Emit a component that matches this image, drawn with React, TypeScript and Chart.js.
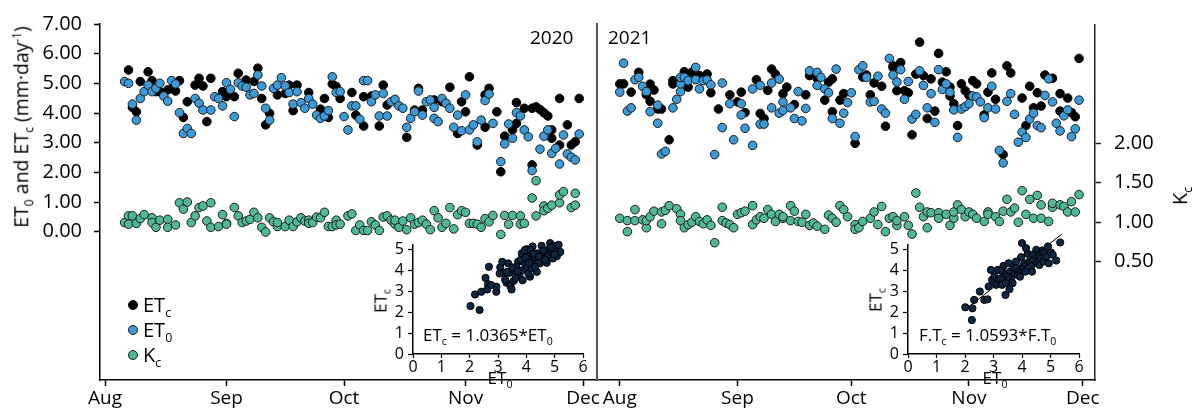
import React, { useEffect, useRef } from 'react';
import { Chart, registerables } from 'chart.js';

Chart.register(...registerables);

const FONT = '"Open Sans", "Noto Sans", sans-serif';
const BLUE = '#3b9ad8';
const GREEN = '#4fb898';
const NAVY = '#0e2642';
const EDGE = '#1b1b1b';

// x: day offset from 1 Aug
const monthDays = [0, 31, 61, 92, 122];
const monthNames = ['Aug', 'Sep', 'Oct', 'Nov', 'Dec'];
const etTicks = [0, 1, 2, 3, 4, 5, 6, 7];
const kcTicks = [0.5, 1, 1.5, 2];
const insetXTicks = [0, 1, 2, 3, 4, 5, 6];
const insetYTicks = [0, 1, 2, 3, 4, 5];

// 2020 season  [day, value]
const et0_2020 = [
  [5,5.06],[6,5.00],[7,4.30],[8,3.76],[9,4.49],[10,4.72],[11,4.94],[12,4.72],[13,4.83],[14,5.00],[15,4.57],[16,4.40],[17,5.09],[18,4.98],[19,4.01],[20,3.31],[21,3.48],[22,3.31],[23,4.49],[24,4.33],[25,4.10],[27,4.10],[28,4.55],[29,4.49],[30,4.24],[31,5.02],[32,4.80],[33,3.88],[34,5.02],[35,4.91],[36,4.87],[37,4.61],[38,4.66],[39,5.28],[40,4.91],[41,4.16],[42,3.76],[43,4.83],[44,4.94],[45,5.19],[46,4.91],[47,4.69],[48,4.30],[49,4.72],[50,4.35],[51,4.16],[52,4.49],[53,4.30],[54,3.93],[55,3.82],[56,3.90],[57,4.08],[58,5.22],[59,4.69],[60,4.72],[61,3.88],[62,3.43],[63,4.24],[64,4.24],[65,3.79],[66,5.09],[67,5.09],[68,4.38],[69,4.61],[70,3.90],[71,4.66],[72,3.90],[73,4.38],
  [74,4.46],[75,4.24],[76,4.16],[77,3.52],[78,3.82],[79,4.04],[80,4.74],[81,3.93],[82,4.38],[83,4.44],[84,4.19],[84,3.82],[85,3.71],[86,4.49],[87,4.33],[88,4.16],[89,3.52],[90,3.93],[91,3.40],[92,4.61],[93,3.43],[94,3.60],[95,3.03],[96,3.76],[97,4.42],[98,4.64],[99,3.65],[101,2.36],[102,2.96],[103,3.63],[104,3.15],[105,4.01],[106,3.90],[107,3.43],[108,3.20],[109,2.06],[111,2.78],[112,3.22],[113,3.43],[114,2.64],[115,2.81],[116,2.28],[117,3.26],[118,2.62],[119,2.51],[120,2.42],[121,3.29],
];
const etc_2020 = [
  [6,5.45],[7,4.19],[8,4.04],[9,5.06],[11,5.39],[12,5.09],[13,4.72],[14,4.72],[16,4.78],[17,4.83],[18,4.74],[19,5.09],[20,3.85],[21,4.38],[23,4.94],[24,5.17],[25,4.91],[26,3.71],[27,5.17],[30,4.72],[31,4.55],[33,4.55],[34,5.34],[36,5.11],[38,5.06],[39,5.51],[40,4.49],[41,3.60],[42,3.99],[44,4.61],[46,4.66],[47,4.94],[48,4.08],[49,4.94],[52,4.69],[55,4.13],[56,4.49],[57,3.85],[58,4.98],[59,4.89],[60,4.49],[63,4.69],[64,3.93],[66,3.56],[66,4.55],[68,4.57],[70,3.56],[71,4.94],[72,4.27],
  [77,3.18],[79,4.10],[80,4.83],[81,4.10],[84,4.44],[86,4.38],[88,4.87],[90,3.31],[91,4.38],[92,4.04],[93,5.22],[95,2.92],[97,3.52],[97,4.61],[98,4.83],[100,4.04],[101,2.02],[102,3.22],[104,3.43],[105,3.65],[105,4.35],[107,4.16],[109,4.16],[109,2.25],[110,4.21],[111,4.12],[112,4.01],[113,3.90],[114,3.15],[114,3.43],[116,2.92],[116,4.49],[118,3.60],[119,2.92],[120,3.03],[121,4.49],
];
const kc_2020 = [
  [5,0.99],[6,1.075],[6,0.97],[7,1.075],[8,0.98],[9,1.04],[10,1.09],[12,1.05],[12,0.99],[13,0.93],[14,1.02],[16,1.03],[16,0.93],[18,0.96],[19,1.24],[20,1.16],[21,1.25],[22,0.99],[23,1.075],[24,1.18],[25,1.20],[26,1.01],[27,1.24],[27,0.93],[29,0.94],[30,1.09],[31,0.98],[31,0.97],[33,1.18],[34,1.075],[35,0.99],[36,1.01],[37,1.03],[38,1.12],[39,1.05],[40,0.93],[41,0.87],[42,1.05],[43,1.00],[44,0.94],[44,0.99],[46,0.94],[47,1.02],[48,0.94],[49,1.00],[50,1.05],[51,1.01],[52,1.02],[52,0.98],[53,0.99],[54,1.06],[55,1.05],[56,1.12],[57,0.94],[58,0.94],[59,1.02],[59,0.96],[60,0.97],[62,1.075],[63,1.10],[64,0.89],[65,0.96],[66,0.89],[67,0.89],[68,1.00],[69,0.96],[70,0.89],[71,1.06],[72,1.075],[73,1.02],
  [74,0.97],[74,1.02],[75,0.93],[76,1.01],[77,0.90],[78,1.05],[79,0.97],[80,0.99],[81,1.02],[82,0.97],[83,0.90],[84,1.14],[85,1.05],[86,0.93],[87,0.98],[88,1.18],[89,0.91],[90,1.09],[91,1.14],[92,1.12],[93,0.98],[94,0.98],[95,0.97],[96,0.93],[97,1.04],[98,1.00],[99,1.08],[101,0.84],[102,1.08],[103,0.97],[104,1.08],[106,1.075],[106,0.97],[107,0.98],[109,1.30],[110,1.075],[110,1.52],[112,1.20],[112,1.14],[113,1.17],[114,1.21],[116,1.24],[116,1.34],[117,1.38],[119,1.18],[120,1.21],[120,1.36],
];

// 2021 season  [day, value]
const et0_2021 = [
  [0,4.73],[1,5.71],[2,4.09],[3,4.20],[4,5.15],[5,5.23],[6,4.93],[7,4.75],[8,4.07],[10,4.29],[10,3.68],[11,2.64],[12,2.73],[14,4.20],[15,4.49],[16,4.75],[16,5.01],[16,5.23],[17,5.23],[18,5.12],[20,5.57],[20,5.15],[21,4.84],[22,5.12],[23,5.15],[24,4.98],[25,2.62],[27,3.53],[27,5.04],[29,4.34],[30,3.12],[32,3.96],[32,4.34],[33,3.51],[35,2.93],[35,4.84],[37,4.96],[37,3.65],[38,3.65],[40,4.20],[40,5.04],[42,5.17],[42,4.02],[43,4.11],[43,4.40],[45,4.20],[46,3.84],[47,4.75],[48,3.76],[49,4.18],[50,5.45],[52,5.40],[52,4.96],[53,5.23],[54,4.84],[55,4.71],[56,3.84],[57,5.51],[58,3.68],[59,4.02],[60,4.38],
  [61,4.71],[62,3.23],[63,5.49],[64,5.62],[65,5.23],[66,4.40],[67,4.42],[68,5.27],[69,4.16],[70,4.02],[71,5.87],[72,5.31],[73,5.07],[74,5.49],[75,4.49],[76,5.09],[77,3.82],[78,3.98],[79,5.45],[80,4.96],[81,4.20],[82,4.68],[83,3.71],[84,5.49],[85,4.82],[86,5.01],[87,4.73],[88,4.13],[89,3.20],[90,4.16],[91,4.24],[92,4.34],[93,4.60],[94,4.57],[95,4.40],[96,3.87],[97,4.20],[98,4.93],[99,4.16],[100,2.76],[101,2.34],[102,4.42],[103,4.68],[104,3.98],[105,3.04],[106,3.38],[107,3.20],[108,3.82],[109,4.02],[110,3.60],[111,3.53],[112,4.62],[113,5.18],[114,4.40],[115,3.68],[116,3.42],[117,3.93],[118,4.13],[119,3.23],[120,3.49],[121,4.46],
];
const etc_2021 = [
  [0,5.01],[1,5.01],[3,4.73],[5,5.40],[7,4.64],[8,5.00],[8,4.42],[9,4.80],[10,4.16],[11,4.16],[13,3.12],[14,5.01],[14,5.12],[17,5.42],[18,4.90],[19,5.40],[21,5.29],[23,5.34],[24,4.71],[26,4.16],[29,4.64],[31,4.40],[32,4.73],[33,4.04],[36,5.15],[37,4.01],[38,3.84],[39,4.79],[40,5.51],[41,5.34],[43,4.68],[44,4.90],[46,4.31],[49,4.64],[50,5.29],[52,5.20],[54,4.46],[55,5.07],[56,5.18],[56,4.07],[58,4.46],[59,4.68],
  [62,3.00],[64,5.24],[65,5.31],[66,4.64],[67,5.04],[69,4.93],[70,3.58],[72,5.62],[72,5.56],[73,4.78],[74,5.73],[75,4.78],[76,4.71],[77,3.29],[78,5.34],[79,6.42],[80,5.29],[81,3.84],[82,5.18],[83,4.09],[84,6.04],[85,5.07],[86,5.42],[87,4.90],[87,4.60],[88,4.34],[89,3.60],[90,5.01],[91,4.78],[92,4.62],[93,5.12],[94,5.01],[96,3.96],[97,4.73],[98,5.38],[99,4.49],[101,2.62],[102,5.62],[103,5.38],[106,4.53],[107,3.60],[108,4.93],[109,4.20],[110,4.71],[111,4.26],[112,5.31],[114,5.20],[116,4.68],[116,4.09],[118,4.53],[119,4.04],[120,3.90],[121,5.87],
];
const kc_2021 = [
  [0,1.05],[2,0.88],[2,1.02],[4,1.16],[4,1.02],[6,1.03],[7,0.93],[7,1.02],[8,1.07],[9,1.14],[11,1.13],[11,0.98],[12,1.15],[13,1.21],[15,1.17],[16,1.10],[16,1.02],[17,0.93],[18,0.97],[19,1.00],[20,1.07],[21,1.01],[22,0.98],[23,1.03],[24,0.96],[25,0.74],[27,1.19],[27,1.02],[28,0.99],[29,0.97],[30,0.93],[31,1.10],[32,1.12],[33,1.14],[35,1.21],[35,0.97],[36,1.03],[37,1.07],[38,1.05],[39,1.16],[40,1.10],[41,1.01],[42,1.10],[43,1.05],[43,1.07],[45,1.21],[45,1.02],[46,1.14],[47,1.01],[48,1.00],[49,1.10],[50,0.96],[51,0.99],[52,0.95],[54,0.91],[55,1.09],[56,1.05],[57,1.00],[58,1.21],[59,1.16],[60,1.07],
  [62,0.97],[62,0.91],[63,0.93],[64,1.01],[66,1.05],[67,1.13],[68,0.97],[69,1.20],[70,0.88],[71,1.05],[72,1.07],[73,0.96],[73,1.02],[75,1.07],[76,0.96],[77,0.85],[78,1.37],[79,1.19],[80,1.07],[81,0.93],[81,1.13],[82,1.12],[84,1.12],[84,1.05],[86,1.10],[87,0.96],[88,1.05],[88,1.13],[89,1.22],[90,1.16],[91,1.07],[92,1.13],[93,1.10],[94,1.05],[96,1.01],[97,1.13],[97,1.10],[99,1.07],[100,1.01],[101,1.14],[102,1.29],[103,1.13],[104,1.18],[105,1.00],[106,1.40],[107,1.10],[108,1.29],[109,1.05],[110,1.34],[111,1.22],[111,1.05],[113,1.01],[114,1.19],[114,1.24],[116,1.22],[117,1.20],[118,1.13],[119,1.26],[120,1.13],[121,1.35],
];

// inset scatter  [ET0, ETc]
const inset2020 = [
  [2.03,2.29],[2.35,2.10],[2.19,2.84],[2.41,2.97],[2.56,3.63],[2.68,4.16],[2.65,3.33],[2.62,3.08],[2.94,2.97],[2.94,3.21],[3.08,4.13],[3.15,4.40],[3.18,3.87],[3.30,3.40],[3.36,4.32],[3.40,3.87],[3.44,3.24],[3.48,3.08],[3.56,3.49],[3.59,3.97],[3.71,4.40],[3.75,3.76],[3.87,3.52],[3.89,4.00],[3.91,4.56],[3.95,4.32],[4.01,5.00],[4.03,4.13],[4.07,4.72],[4.13,3.69],[4.15,4.49],[4.22,5.13],[4.25,4.32],[4.31,4.61],[4.37,3.92],[4.39,4.80],[4.48,4.32],[4.54,5.16],[4.58,4.61],[4.66,4.87],[4.72,4.35],[4.78,4.72],[4.84,5.29],[4.90,4.87],[4.94,4.56],[4.98,5.16],[5.05,4.87],[5.08,4.67],[5.14,5.21],[5.17,5.44],[5.20,4.87],[3.65,4.16],[3.81,4.51],[4.07,3.84],[4.19,4.08],[3.06,3.84],[2.76,3.29],[3.32,3.92],[3.51,4.13],[3.84,4.80],[3.95,4.96],[4.15,4.96],[4.42,4.40],[4.66,4.49],[4.82,5.03],[4.25,4.78],[3.25,3.55],[3.62,3.62],[3.70,3.95],[4.45,4.65],[4.60,4.95],[4.88,5.10],[5.00,4.75],[3.98,4.60],[4.10,4.35],[4.30,4.15],
];
const inset2021 = [
  [2.01,2.23],[2.24,1.62],[2.32,2.58],[2.26,2.18],[2.52,2.98],[2.68,2.58],[2.79,2.61],[2.83,3.22],[2.91,4.01],[2.95,3.54],[3.03,3.69],[3.09,3.30],[3.15,4.01],[3.20,3.54],[3.26,3.61],[3.30,3.30],[3.35,4.20],[3.38,3.85],[3.42,2.82],[3.44,3.38],[3.53,4.33],[3.56,3.09],[3.58,3.93],[3.62,3.61],[3.67,3.38],[3.70,4.17],[3.73,3.85],[3.79,4.41],[3.85,3.77],[3.91,4.01],[3.93,3.69],[3.97,4.62],[4.00,5.29],[4.03,4.17],[4.08,4.33],[4.12,3.93],[4.20,4.78],[4.26,4.41],[4.32,4.17],[4.35,3.93],[4.40,4.52],[4.50,4.97],[4.52,4.33],[4.55,4.73],[4.61,4.25],[4.67,4.57],[4.71,4.94],[4.75,4.41],[4.79,4.81],[4.85,4.65],[4.91,5.13],[4.94,4.33],[4.96,5.76],[4.99,5.45],[5.02,4.84],[5.08,4.73],[5.20,4.46],[5.34,5.32],[3.79,4.09],[4.14,5.05],[3.26,3.98],[3.50,3.69],[4.38,4.73],
];
const regLine2021 = [[2.2, 2.33], [5.4, 5.72]];

const toXY = (a: number[][]) => a.map(([x, y]) => ({ x, y }));
const setTicks = (values: number[]) => (s: any) => {
  s.ticks = values.map((v) => ({ value: v }));
};

const yFont = { family: FONT, size: 20 };
const xFont = { family: FONT, size: 19 };
const insetFont = { family: FONT, size: 16 };

function mainConfig(o: {
  et0: number[][]; etc: number[][]; kc: number[][];
  xmin: number; xmax: number; side: 'left' | 'right';
}): any {
  const pt = { pointRadius: 4.3, borderWidth: 1, pointHoverRadius: 4.3 };
  const left = o.side === 'left';
  return {
    type: 'scatter',
    data: {
      datasets: [
        { label: 'ET0', data: toXY(o.et0), yAxisID: 'yET', backgroundColor: BLUE, borderColor: EDGE, ...pt },
        { label: 'ETc', data: toXY(o.etc), yAxisID: 'yET', backgroundColor: '#000', borderColor: '#000', ...pt },
        { label: 'Kc', data: toXY(o.kc), yAxisID: 'yKc', backgroundColor: GREEN, borderColor: EDGE, ...pt },
      ],
    },
    options: {
      animation: false,
      responsive: false,
      devicePixelRatio: 1,
      events: [],
      layout: { padding: { top: 23, bottom: 0, left: left ? 0 : 20, right: left ? 24 : 0 } },
      plugins: { legend: { display: false }, tooltip: { enabled: false } },
      scales: {
        x: {
          type: 'linear', min: o.xmin, max: o.xmax,
          afterBuildTicks: setTicks(monthDays),
          ticks: {
            callback: (v: number) => monthNames[monthDays.indexOf(v)] ?? '',
            font: xFont, color: '#000', padding: 1, maxRotation: 0, autoSkip: false,
          },
          grid: { drawOnChartArea: false, tickLength: 6, tickColor: '#000', tickWidth: 1.5 },
          border: { color: '#000', width: 1.5 },
          afterFit: (s: any) => { s.height = 30; },
        },
        yET: {
          type: 'linear', position: 'left', min: -5, max: 7, display: left,
          afterBuildTicks: setTicks(etTicks),
          ticks: { callback: (v: number) => Number(v).toFixed(2), font: yFont, color: '#000', padding: 12, autoSkip: false },
          grid: { drawOnChartArea: false, tickLength: 6, tickColor: '#000', tickWidth: 1.5 },
          border: { color: '#000', width: 1.5 },
          afterFit: (s: any) => { s.width = left ? 100 : 0; },
        },
        yKc: {
          type: 'linear', position: 'right', min: -1, max: 3.5, display: !left,
          afterBuildTicks: setTicks(kcTicks),
          ticks: { callback: (v: number) => Number(v).toFixed(2), font: yFont, color: '#000', padding: 13, autoSkip: false },
          grid: { drawOnChartArea: false, tickLength: 6, tickColor: '#222', tickWidth: 1.5 },
          border: { color: '#222', width: 1.5 },
          afterFit: (s: any) => { s.width = left ? 0 : 100; },
        },
      },
    },
  };
}

function insetConfig(pts: number[][], line: number[][] | null, yWidth: number, padRight: number): any {
  const datasets: any[] = [];
  if (line) {
    datasets.push({ data: toXY(line), showLine: true, borderColor: '#000', borderWidth: 1, pointRadius: 0, clip: false });
  }
  datasets.push({ data: toXY(pts), backgroundColor: NAVY, borderColor: '#000', borderWidth: 1, pointRadius: 3.6, pointHoverRadius: 3.6, clip: false });
  return {
    type: 'scatter',
    data: { datasets },
    options: {
      animation: false,
      responsive: false,
      devicePixelRatio: 1,
      events: [],
      layout: { padding: { top: 20, right: padRight, left: 0, bottom: 0 } },
      plugins: { legend: { display: false }, tooltip: { enabled: false } },
      scales: {
        x: {
          type: 'linear', min: 0, max: 6,
          afterBuildTicks: setTicks(insetXTicks),
          ticks: { font: insetFont, color: '#000', padding: 0, maxRotation: 0, autoSkip: false },
          grid: { drawOnChartArea: false, tickLength: 4, tickColor: '#000', tickWidth: 1.2 },
          border: { color: '#000', width: 1.5 },
          afterFit: (s: any) => { s.height = 36; },
        },
        y: {
          type: 'linear', min: 0, max: 5.2,
          afterBuildTicks: setTicks(insetYTicks),
          ticks: { font: insetFont, color: '#000', padding: 4, autoSkip: false },
          grid: { drawOnChartArea: false, tickLength: 5, tickColor: '#000', tickWidth: 1.2 },
          border: { color: '#000', width: 1.5 },
          afterFit: (s: any) => { s.width = yWidth; },
        },
      },
    },
  };
}

const subStyle: React.CSSProperties = { fontSize: '0.62em', position: 'relative', top: '0.38em' };
const supStyle: React.CSSProperties = { fontSize: '0.6em', position: 'relative', top: '-0.6em' };
const Sub = ({ children }: { children: React.ReactNode }) => <span style={subStyle}>{children}</span>;
const Sup = ({ children }: { children: React.ReactNode }) => <span style={supStyle}>{children}</span>;

function Rot({ cx, cy, size, children }: { cx: number; cy: number; size: number; children: React.ReactNode }) {
  return (
    <div
      style={{
        position: 'absolute', left: cx, top: cy, fontSize: size, lineHeight: 1, whiteSpace: 'nowrap',
        transform: 'translate(-50%, -50%) rotate(-90deg)',
      }}
    >
      {children}
    </div>
  );
}

function Txt({ x, y, size, children, center }: { x: number; y: number; size: number; children: React.ReactNode; center?: boolean }) {
  return (
    <div
      style={{
        position: 'absolute', left: x, top: y, fontSize: size, lineHeight: 1, whiteSpace: 'nowrap',
        transform: center ? 'translate(-50%, -50%)' : undefined,
      }}
    >
      {children}
    </div>
  );
}

const legendItems = [
  { name: 'ET', sub: 'c', fill: '#000', edge: '#000' },
  { name: 'ET', sub: '0', fill: BLUE, edge: EDGE },
  { name: 'K', sub: 'c', fill: GREEN, edge: EDGE },
];

export default function App() {
  const leftRef = useRef<HTMLCanvasElement>(null);
  const rightRef = useRef<HTMLCanvasElement>(null);
  const in1Ref = useRef<HTMLCanvasElement>(null);
  const in2Ref = useRef<HTMLCanvasElement>(null);

  useEffect(() => {
    Chart.defaults.font.family = FONT;
    Chart.defaults.color = '#000';
    const charts = [
      new Chart(leftRef.current!, mainConfig({ et0: et0_2020, etc: etc_2020, kc: kc_2020, xmin: -1.28, xmax: 125.3, side: 'left' })),
      new Chart(rightRef.current!, mainConfig({ et0: et0_2021, etc: etc_2021, kc: kc_2021, xmin: -6.0, xmax: 125.2, side: 'right' })),
      new Chart(in1Ref.current!, insetConfig(inset2020, null, 53, 17)),
      new Chart(in2Ref.current!, insetConfig(inset2021, regLine2021, 48, 21)),
    ];
    return () => charts.forEach((c) => c.destroy());
  }, []);

  return (
    <div
      style={{
        position: 'absolute', left: 0, top: 0, width: 1195, height: 410, overflow: 'hidden',
        background: '#fff', fontFamily: FONT, color: '#000',
      }}
    >
      <canvas ref={leftRef} width={620} height={410} style={{ position: 'absolute', left: 0, top: 0 }} />
      <canvas ref={rightRef} width={618} height={410} style={{ position: 'absolute', left: 577, top: 0 }} />
      <div style={{ position: 'absolute', left: 595.5, top: 23, width: 2, height: 357, background: '#555' }} />
      <canvas ref={in1Ref} width={240} height={165} style={{ position: 'absolute', left: 360, top: 225 }} />
      <canvas ref={in2Ref} width={240} height={165} style={{ position: 'absolute', left: 860, top: 225 }} />

      <Rot cx={21} cy={127} size={19.5}>
        ET<Sub>0</Sub> and ET<Sub>c</Sub> (mm·day<Sup>-1</Sup>)
      </Rot>
      <Rot cx={1180} cy={196} size={20}>
        K<Sub>c</Sub>
      </Rot>

      <Txt x={530} y={28} size={19}>2020</Txt>
      <Txt x={608} y={28} size={19}>2021</Txt>

      {legendItems.map((it, i) => (
        <div
          key={i}
          style={{
            position: 'absolute', left: 128, top: 293 + i * 25, height: 24, display: 'flex',
            alignItems: 'center', fontSize: 20, lineHeight: 1, whiteSpace: 'nowrap',
          }}
        >
          <span
            style={{
              display: 'inline-block', width: 10, height: 10, borderRadius: '50%', background: it.fill,
              border: `1px solid ${it.edge}`, boxSizing: 'border-box', marginRight: 5,
            }}
          />
          <span>
            {it.name}
            <Sub>{it.sub}</Sub>
          </span>
        </div>
      ))}

      <Txt x={423} y={326} size={17}>
        ET<Sub>c</Sub> = 1.0365*ET<Sub>0</Sub>
      </Txt>
      <Txt x={919} y={326} size={17}>
        F.T<Sub>c</Sub> = 1.0593*F.T<Sub>0</Sub>
      </Txt>
      <Rot cx={380} cy={301} size={17}>
        ET<Sub>c</Sub>
      </Rot>
      <Rot cx={875} cy={300} size={17}>
        ET<Sub>c</Sub>
      </Rot>
      <Txt x={500} y={377} size={17} center>
        ET<Sub>0</Sub>
      </Txt>
      <Txt x={995} y={377} size={17} center>
        ET<Sub>0</Sub>
      </Txt>
    </div>
  );
}
